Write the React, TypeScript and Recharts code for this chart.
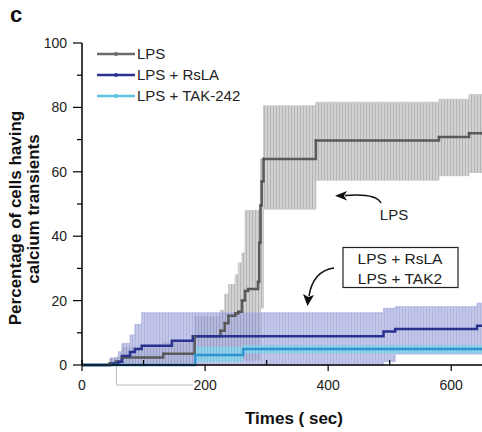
import React from 'react';
import { ComposedChart, Area, Line, XAxis, YAxis } from 'recharts';

// time points (sec) where each step starts, with mean and error band
const lpsTime = [0, 45, 55, 65, 132, 183, 225, 232, 238, 249, 254, 260, 265, 270, 286, 288, 290, 292, 295, 380, 580, 629, 650];
const lpsMean = [0, 0.5, 1, 2.3, 3.5, 8.9, 10.6, 13, 15.3, 16, 16.5, 20, 23, 23.6, 25.8, 38, 49.5, 57, 64, 69.7, 70.8, 72, 72];
const lpsLow = [0, 0, 0, 0, 0, 2, 3, 3, 3, 2, 2, 2, 1.5, 1.5, 1.5, 1.5, 17.7, 17.7, 48.4, 57.4, 58.8, 59.8, 59.8];
const lpsHigh = [0, 2, 2.5, 5.5, 7, 15, 17, 22, 25, 28, 31.7, 34.8, 48, 48, 48, 48, 64, 64, 80.5, 81.6, 82.5, 84, 84];

const rslaTime = [0, 46, 59, 65, 78, 86, 97, 146, 180, 490, 509, 642, 650];
const rslaMean = [0, 0.5, 1, 2.8, 4, 5, 6, 7.5, 8.9, 10.4, 11.2, 12.2, 12.2];
const rslaLow = [0, 0, 0, 0, 0, 0, 0, 0, 0, 1, 3.4, 3.4, 3.4];
const rslaHigh = [0, 2.2, 4.1, 6.7, 9.3, 12.6, 16.2, 16.2, 16.2, 17.6, 18.1, 19.2, 19.2];

const takTime = [0, 184, 262, 650];
const takMean = [0, 3.1, 5, 5];
const takLow = [0, 1, 3.6, 3.6];
const takHigh = [0, 5.7, 6.2, 6.2];

const xTicks = [0, 100, 200, 300, 400, 500, 600];
const yTicks = [0, 10, 20, 30, 40, 50, 60, 70, 80, 90, 100];

const legendItems = [
  { name: 'LPS', color: '#6b6b6b' },
  { name: 'LPS + RsLA', color: '#2a3290' },
  { name: 'LPS + TAK-242', color: '#5cc3e0' },
];

const FONT = '"Liberation Sans", Arial, sans-serif';

const build = (time: number[], mean: number[], low: number[], high: number[]) =>
  time.map((t, i) => ({ t, mean: mean[i], low: low[i], high: high[i] }));

const lpsData = build(lpsTime, lpsMean, lpsLow, lpsHigh);
const rslaData = build(rslaTime, rslaMean, rslaLow, rslaHigh);
const takData = build(takTime, takMean, takLow, takHigh);

const YTick = (props: any) => {
  const { x, y, payload } = props;
  const major = payload.value % 20 === 0;
  return (
    <g>
      <line x1={x - (major ? 9 : 5)} x2={x} y1={y} y2={y} stroke="#000" strokeWidth={1.2} />
      {major && (
        <text x={x - 15} y={y + 5} textAnchor="end" fontSize={14} fontFamily={FONT} fill="#222">
          {payload.value}
        </text>
      )}
    </g>
  );
};

const XTick = (props: any) => {
  const { x, y, payload } = props;
  const major = payload.value % 200 === 0;
  return (
    <g>
      {major ? (
        <line x1={x} x2={x} y1={payload.value === 0 ? y - 5 : y} y2={y + 6} stroke="#000" strokeWidth={1.2} />
      ) : (
        <line x1={x} x2={x} y1={y - 5} y2={y} stroke="#000" strokeWidth={1.2} />
      )}
      {major && (
        <text x={x} y={y + 25} textAnchor="middle" fontSize={14} fontFamily={FONT} fill="#222">
          {payload.value}
        </text>
      )}
    </g>
  );
};

export default function App() {
  return (
    <div style={{ position: 'absolute', left: 0, top: 0, width: 482, height: 432, background: '#fff' }}>
      <ComposedChart width={482} height={432} margin={{ top: 43, right: 0, bottom: 0, left: 0 }}>
        <defs>
          <pattern id="hatchGray" width="3" height="10" patternUnits="userSpaceOnUse">
            <rect width="3" height="10" fill="#d2d2d2" />
            <line x1="0.5" y1="0" x2="0.5" y2="10" stroke="#b4b4b4" strokeWidth="1" />
          </pattern>
          <pattern id="hatchBlue" width="3" height="10" patternUnits="userSpaceOnUse">
            <rect width="3" height="10" fill="#a9afe0" />
            <line x1="0.5" y1="0" x2="0.5" y2="10" stroke="#8e95d2" strokeWidth="1" />
          </pattern>
          <pattern id="hatchCyan" width="3" height="10" patternUnits="userSpaceOnUse">
            <rect width="3" height="10" fill="#8fd4ec" />
            <line x1="0.5" y1="0" x2="0.5" y2="10" stroke="#78c6e2" strokeWidth="1" />
          </pattern>
        </defs>
        <XAxis
          dataKey="t"
          type="number"
          domain={[0, 650]}
          allowDataOverflow
          ticks={xTicks}
          interval={0}
          height={67}
          tickSize={0}
          tickMargin={0}
          tickLine={false}
          axisLine={{ stroke: '#000', strokeWidth: 1.5 }}
          tick={<XTick />}
        />
        <YAxis
          type="number"
          domain={[0, 100]}
          ticks={yTicks}
          interval={0}
          width={82}
          tickSize={0}
          tickMargin={0}
          tickLine={false}
          axisLine={{ stroke: '#000', strokeWidth: 1.5 }}
          tick={<YTick />}
        />
        <Area
          data={lpsData}
          dataKey={(d: any) => [d.low, d.high]}
          type="stepAfter"
          stroke="#c4c4c4"
          strokeWidth={0.8}
          fill="url(#hatchGray)"
          fillOpacity={1}
          isAnimationActive={false}
        />
        <Area
          data={rslaData}
          dataKey={(d: any) => [d.low, d.high]}
          type="stepAfter"
          stroke="#aab0e0"
          strokeWidth={0.8}
          fill="url(#hatchBlue)"
          fillOpacity={0.7}
          isAnimationActive={false}
        />
        <Area
          data={takData}
          dataKey={(d: any) => [d.low, d.high]}
          type="stepAfter"
          stroke="none"
          fill="url(#hatchCyan)"
          fillOpacity={0.9}
          isAnimationActive={false}
        />
        <Line
          data={lpsData}
          dataKey="mean"
          type="stepAfter"
          stroke="#5a5a5a"
          strokeWidth={2.5}
          dot={{ r: 1.3, fill: '#555', stroke: 'none' }}
          isAnimationActive={false}
        />
        <Line
          data={rslaData}
          dataKey="mean"
          type="stepAfter"
          stroke="#2a3290"
          strokeWidth={2.5}
          dot={false}
          isAnimationActive={false}
        />
        <Line
          data={takData}
          dataKey="mean"
          type="stepAfter"
          stroke="#2f93cf"
          strokeWidth={2.5}
          dot={false}
          isAnimationActive={false}
        />
      </ComposedChart>

      <svg
        width={482}
        height={432}
        style={{ position: 'absolute', left: 0, top: 0, pointerEvents: 'none' }}
        fontFamily={FONT}
      >
        <text x={10} y={22} fontSize={22} fontWeight="bold" fill="#111">c</text>

        {legendItems.map((item, i) => (
          <g key={item.name}>
            <line x1={97} x2={135} y1={54 + i * 21} y2={54 + i * 21} stroke={item.color} strokeWidth={2.5} />
            <circle cx={116} cy={54 + i * 21} r={2} fill={item.color} />
            <text x={137} y={59 + i * 21} fontSize={15} fill="#222">{item.name}</text>
          </g>
        ))}

        <text transform="translate(21,218) rotate(-90)" textAnchor="middle" fontSize={17} fontWeight="bold" fill="#111">
          Percentage of cells having
        </text>
        <text transform="translate(39,209) rotate(-90)" textAnchor="middle" fontSize={17} fontWeight="bold" fill="#111">
          calcium transients
        </text>
        <text x={294} y={424} textAnchor="middle" fontSize={17} fontWeight="bold" fill="#111">
          Times ( sec)
        </text>

        <polyline points="116.5,366 116.5,385 193,385" fill="none" stroke="#bbb" strokeWidth={1} />

        <path d="M381,203 Q376,193 345,195.5" fill="none" stroke="#111" strokeWidth={1.5} />
        <polygon points="335,195.7 347,191 344,195.7 347,200.5" fill="#111" />
        <text x={394} y={220} textAnchor="middle" fontSize={15} fill="#222">LPS</text>

        <rect x={343} y={247.5} width={115} height={40} fill="#fff" stroke="#222" strokeWidth={1.2} />
        <text x={400} y={263.5} textAnchor="middle" fontSize={15.5} fill="#222">LPS + RsLA</text>
        <text x={400} y={284} textAnchor="middle" fontSize={15.5} fill="#222">LPS + TAK2</text>
        <path d="M334,268 Q313,271 309,296" fill="none" stroke="#111" strokeWidth={1.5} />
        <polygon points="307.5,306 303,294 308.5,297 314,295" fill="#111" />
      </svg>
    </div>
  );
}
